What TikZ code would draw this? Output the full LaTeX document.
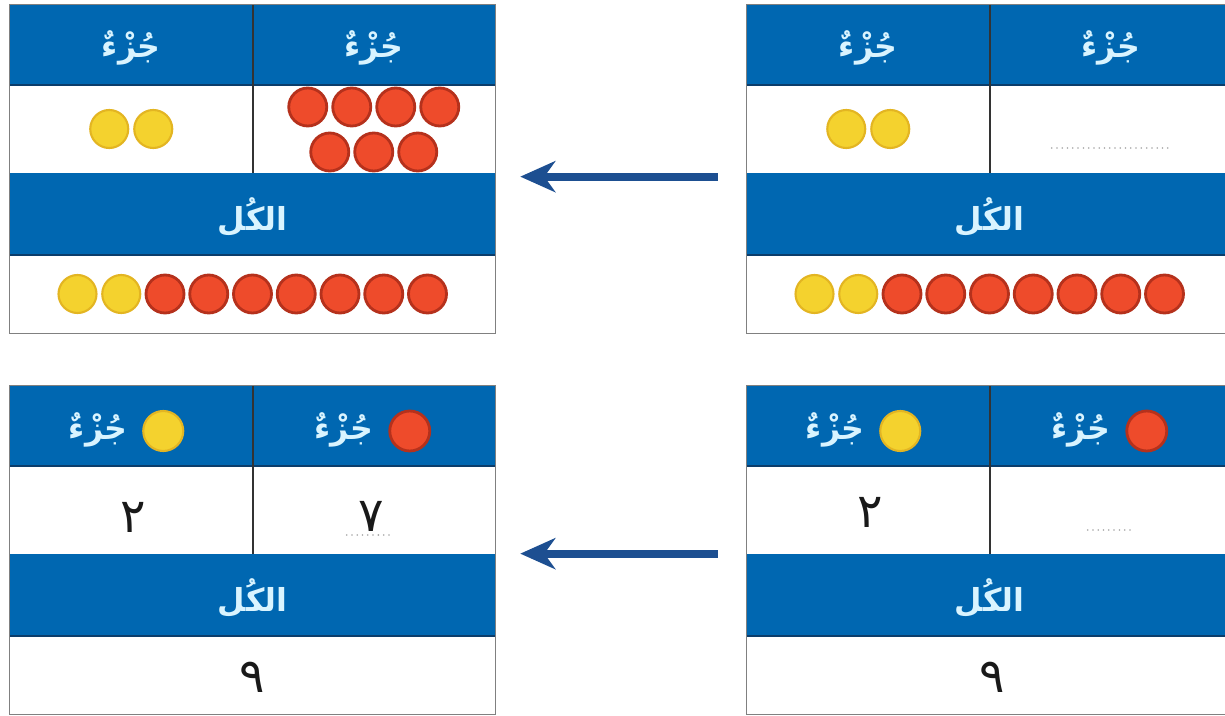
\documentclass[tikz,border=0pt]{standalone}
\usepackage{fontspec}
\usetikzlibrary{arrows.meta, calc}
\newfontfamily\arabicfont[Script=Arabic]{DejaVu Sans}
\TeXXeTstate=1
\newcommand{\artext}[1]{{\arabicfont\beginR #1\endR}}

\definecolor{bandblue}{HTML}{0067B1}
\definecolor{bandedge}{HTML}{0B3D6B}
\definecolor{textcyan}{HTML}{D9F4FF}
\definecolor{arrowblue}{HTML}{1D4F91}
\definecolor{dotyellow}{HTML}{F4D22E}
\definecolor{dotyellowrim}{HTML}{E3B522}
\definecolor{dotred}{HTML}{EE4B2B}
\definecolor{dotredrim}{HTML}{B5311C}

\begin{document}
\begin{tikzpicture}[x=0.02cm, y=-0.02cm,
    half/.style={rectangle, inner sep=0pt, minimum width=4.85cm},
    full/.style={rectangle, inner sep=0pt, minimum width=9.7cm},
    band/.style={fill=bandblue},
    blank/.style={fill=white},
    hdrtext/.style={text=textcyan, font=\bfseries\fontsize{18}{22}\selectfont},
    numtext/.style={text=black!90, font=\fontsize{27}{31}\selectfont},
    yellowdot/.style={circle, inner sep=0pt, minimum size=0.76cm, fill=dotyellow, draw=dotyellowrim, line width=1.2pt},
    reddot/.style={circle, inner sep=0pt, minimum size=0.76cm, fill=dotred, draw=dotredrim, line width=1.6pt},
    answerline/.style={draw=gray!70, line width=1pt, line cap=round, dash pattern=on 0pt off 3pt},
    arr/.style={draw=arrowblue, line width=4.5pt, -{Stealth[length=0.7cm, width=0.62cm, inset=0.22cm]}}
  ]
  \path[use as bounding box, clip] (0,0) rectangle (1225,716);
  \fill[white] (0,0) rectangle (1225,716);

  % Tables
  \foreach \n/\x/\y in {tl/10/5, tr/747/5, bl/10/386, br/747/386} {
    \node[half, band, minimum height=1.6cm] (\n-h1) at ({\x+121.25},{\y+40}) {};
    \node[half, band, minimum height=1.6cm] (\n-h2) at ({\x+363.75},{\y+40}) {};
    \node[half, blank, minimum height=1.76cm] (\n-p1) at ({\x+121.25},{\y+124}) {};
    \node[half, blank, minimum height=1.76cm] (\n-p2) at ({\x+363.75},{\y+124}) {};
    \node[full, band, minimum height=1.64cm] (\n-k) at ({\x+242.5},{\y+209}) {};
    \node[full, blank, minimum height=1.56cm] (\n-w) at ({\x+242.5},{\y+289}) {};
    \node[hdrtext] (\n-kt) at ($(\n-k)+(0,3)$) {\artext{الكُل}};
    \draw[bandedge, line width=1.2pt] (\n-h1.south west) -- (\n-h2.south east);
    \draw[bandedge, line width=1.2pt] (\n-k.south west) -- (\n-k.south east);
    \draw[black!80, line width=0.8pt] (\n-h1.north east) -- (\n-p1.south east);
    \draw[gray, line width=0.8pt] (\n-h1.north west) rectangle (\n-w.south east);
  }

  % Top headers
  \node[hdrtext] (tl-t1) at ($(tl-h1)+(0,3)$) {\artext{جُزْءٌ}};
  \node[hdrtext] (tl-t2) at ($(tl-h2)+(0,3)$) {\artext{جُزْءٌ}};
  \node[hdrtext] (tr-t1) at ($(tr-h1)+(0,3)$) {\artext{جُزْءٌ}};
  \node[hdrtext] (tr-t2) at ($(tr-h2)+(0,3)$) {\artext{جُزْءٌ}};

  % Counters, top left
  \foreach \i in {1,2}
    \node[yellowdot] (tl-y\i) at ({131.25+(\i-1.5)*44},129) {};
  \foreach \i in {1,...,4}
    \node[reddot] (tl-r\i) at ({373.75+(\i-2.5)*44},107) {};
  \foreach \i in {5,6,7}
    \node[reddot] (tl-r\i) at ({373.75+(\i-6)*44},152) {};
  \foreach \i in {1,2}
    \node[yellowdot] (tl-w\i) at ({252.5+(\i-5)*43.75},294) {};
  \foreach \i in {3,...,9}
    \node[reddot] (tl-w\i) at ({252.5+(\i-5)*43.75},294) {};

  % Counters, top right
  \foreach \i in {1,2}
    \node[yellowdot] (tr-y\i) at ({868.25+(\i-1.5)*44},129) {};
  \draw[answerline] ($(tr-p2)+(-59,19)$) -- ($(tr-p2)+(61,19)$);
  \foreach \i in {1,2}
    \node[yellowdot] (tr-w\i) at ({989.5+(\i-5)*43.75},294) {};
  \foreach \i in {3,...,9}
    \node[reddot] (tr-w\i) at ({989.5+(\i-5)*43.75},294) {};

  % Bottom headers
  \foreach \n in {bl, br} {
    \node[yellowdot, minimum size=0.8cm] (\n-i1) at ($(\n-h1)+(32,5)$) {};
    \node[hdrtext] (\n-t1) at ($(\n-h1)+(-33,4)$) {\artext{جُزْءٌ}};
    \node[reddot, minimum size=0.8cm] (\n-i2) at ($(\n-h2)+(36,5)$) {};
    \node[hdrtext] (\n-t2) at ($(\n-h2)+(-30,4)$) {\artext{جُزْءٌ}};
  }

  % Numbers
  \node[numtext] (bl-n1) at ($(bl-p1)+(2,7)$) {\artext{٢}};
  \node[numtext] (bl-n2) at ($(bl-p2)+(-3,6)$) {\artext{٧}};
  \draw[answerline] ($(bl-p2)+(-27,25)$) -- ($(bl-p2)+(18,25)$);
  \node[numtext] (bl-n3) at ($(bl-w)+(0,2)$) {\artext{٩}};
  \node[numtext] (br-n1) at ($(br-p1)+(2,2)$) {\artext{٢}};
  \draw[answerline] ($(br-p2)+(-23,20)$) -- ($(br-p2)+(24,20)$);
  \node[numtext] (br-n3) at ($(br-w)+(3,2)$) {\artext{٩}};

  % Arrows
  \draw[arr, shorten <=0.58cm, shorten >=0.5cm] ([yshift=-0.08cm]tr-k.north west) -- ([yshift=-0.08cm]tl-k.north east);
  \draw[arr, shorten <=0.58cm, shorten >=0.5cm] (br-k.north west) -- (bl-k.north east);
\end{tikzpicture}
\end{document}
